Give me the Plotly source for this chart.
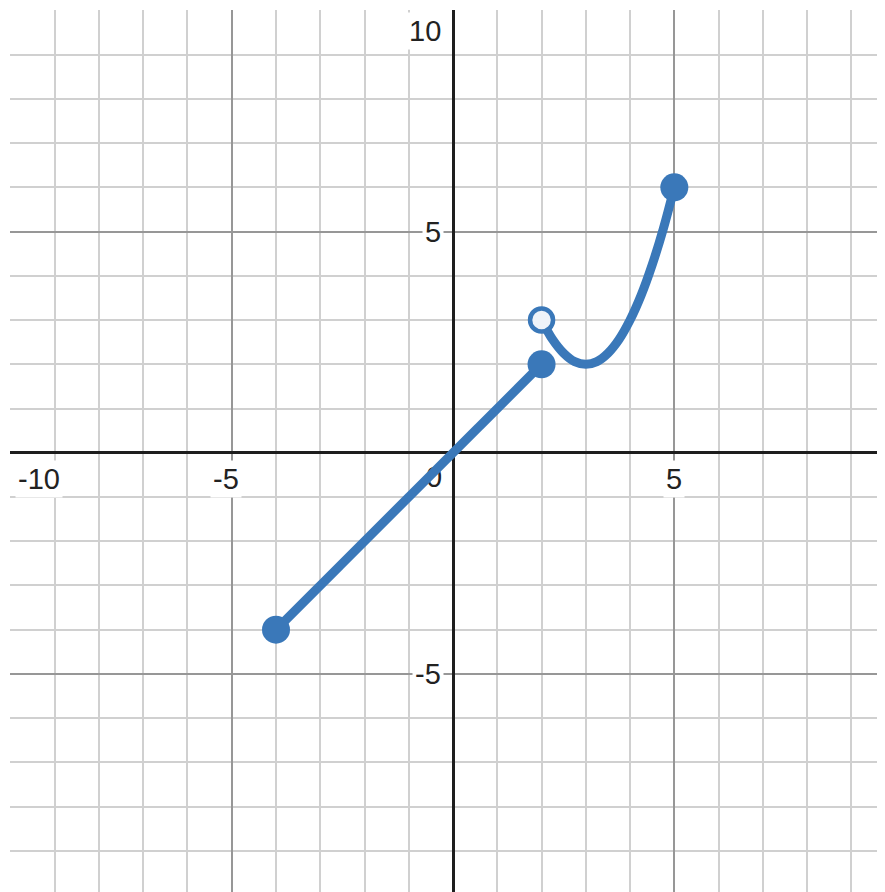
import plotly.graph_objects as go

# values
line_x = [-4, 2]
line_y = [-4, 2]

curve_x = [2, 2.25, 2.5, 2.75, 3, 3.25, 3.5, 3.75, 4, 4.25, 4.5, 4.75, 5]
curve_y = [3, 2.56, 2.25, 2.06, 2, 2.06, 2.25, 2.56, 3, 3.56, 4.25, 5.06, 6]

closed_x = [-4, 2, 5]
closed_y = [-4, 2, 6]
open_x = [2]
open_y = [3]

x_tick_vals = [-10, -5, 5]
x_tick_text = ["-10", "-5", "5"]
y_tick_vals = [10, 5, -5]
y_tick_text = ["10", "5", "-5"]

BLUE = "#3a78b9"
FONT = dict(family="Liberation Sans, Arial, sans-serif", size=29, color="#222222")

fig = go.Figure()

# origin label goes first so the curve is drawn over it
fig.add_trace(go.Scatter(x=[-0.43], y=[-0.6], mode="text", text=["0"],
                         textposition="middle center", textfont=FONT,
                         hoverinfo="skip", showlegend=False))

fig.add_trace(go.Scatter(x=line_x, y=line_y, mode="lines",
                         line=dict(color=BLUE, width=9), showlegend=False))
fig.add_trace(go.Scatter(x=curve_x, y=curve_y, mode="lines",
                         line=dict(color=BLUE, width=9, shape="spline"),
                         showlegend=False))
fig.add_trace(go.Scatter(x=closed_x, y=closed_y, mode="markers",
                         marker=dict(color=BLUE, size=28), showlegend=False))
fig.add_trace(go.Scatter(x=open_x, y=open_y, mode="markers",
                         marker=dict(color="#eef3f9", size=23,
                                     line=dict(color=BLUE, width=4.5)),
                         showlegend=False))

# x axis labels, below the axis line
for v, t in zip(x_tick_vals, x_tick_text):
    xs = 0
    if v == -10:
        xs = 29    # pushed inside the view like the original
    elif v < 0:
        xs = -6
    fig.add_annotation(x=v, y=0, text=t, showarrow=False, font=FONT,
                       bgcolor="white", xshift=xs, yshift=-26, borderpad=2)

# y axis labels, left of the axis line
for v, t in zip(y_tick_vals, y_tick_text):
    ys = -21 if v == 10 else 0
    fig.add_annotation(x=0, y=v, text=t, showarrow=False, font=FONT,
                       bgcolor="white", xanchor="right", xshift=-9,
                       yshift=ys, borderpad=2)

axis_style = dict(
    showticklabels=False, ticks="",
    dtick=5, tick0=0, gridcolor="#979797", gridwidth=1.5,
    minor=dict(dtick=1, tick0=0, gridcolor="#d0d0d0", gridwidth=1.5, showgrid=True),
    zeroline=True, zerolinecolor="#1e1e1e", zerolinewidth=3,
    showline=False, fixedrange=True,
)

fig.update_xaxes(range=[-10.01, 9.76], **axis_style)
fig.update_yaxes(range=[-9.93, 10.01], **axis_style)

# page body adds 8px, so the figure is trimmed by that much
fig.update_layout(
    width=877, height=884,
    margin=dict(l=2, r=0, t=2, b=0),
    paper_bgcolor="white", plot_bgcolor="white",
    showlegend=False,
)

fig.write_html("out.html")
